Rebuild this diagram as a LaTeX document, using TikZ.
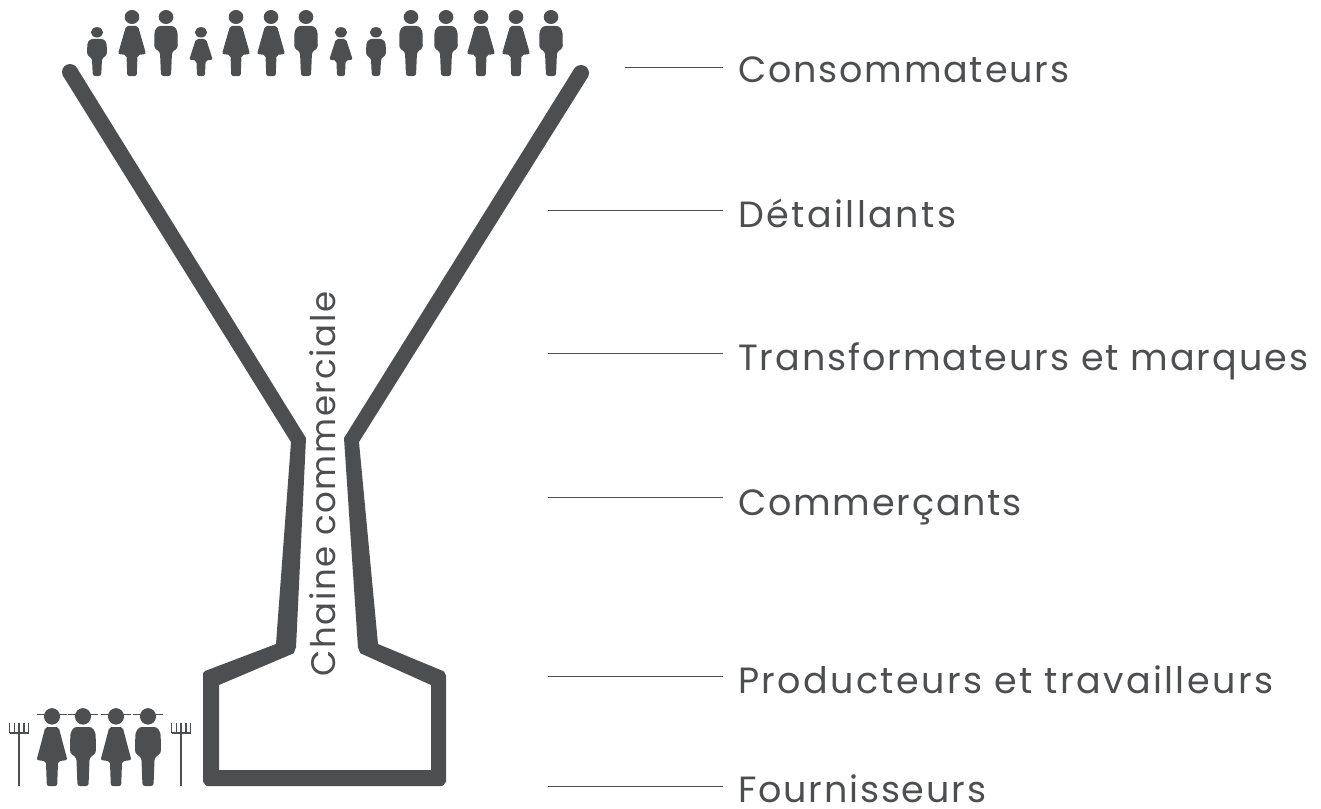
\documentclass[tikz,border=0pt]{standalone}
\usepackage{fontspec}
\setmainfont[LetterSpace=5]{Poppins}
\definecolor{ink}{HTML}{4D4E50}
\tikzset{
  x=1pt,y=-1pt,
  leader/.style={draw=ink,line width=0.8pt},
  label/.style={anchor=base west,inner sep=0pt,text=ink,font=\fontsize{36.5}{42}\selectfont},
  axislabel/.style={anchor=base west,inner sep=0pt,text=ink,rotate=90,font=\fontsize{34}{40}\selectfont},
  man/.pic={
    \fill[ink] (0,-59) ellipse (7.3 and 7);
    \fill[ink,rounded corners=2.5] (-8,-50) -- (8,-50) -- (11.5,-45) -- (11.8,-28) -- (6,-24) -- (5,0) -- (-5,0) -- (-6,-24) -- (-11.8,-28) -- (-11.5,-45) -- cycle;
  },
  woman/.pic={
    \fill[ink] (0,-59) ellipse (7.3 and 7);
    \fill[ink,rounded corners=2] (-6,-50) -- (6,-50) -- (14,-22) -- (5.5,-21) -- (4.7,0) -- (-4.7,0) -- (-5.5,-21) -- (-14,-22) -- cycle;
  },
  fork/.pic={
    \draw[ink,line width=1.5pt] (0,0) -- (0,63) (-9.5,10) -- (9.5,10) (-9.5,0) -- (-9.5,10) (-4.75,0) -- (-4.75,10) (4.75,0) -- (4.75,10) (9.5,0) -- (9.5,10);
  },
  hat/.pic={
    \draw[ink,line width=1pt] (-15,0) -- (15,0);
  }
}
\begin{document}
\begin{tikzpicture}
\useasboundingbox (0,0) rectangle (1321,808);
\fill[ink] (70,72) circle (8);
\fill[ink] (581,73) circle (8);
\fill[ink]
 (63.2,76.2) -- (291,442) -- (276,644) -- (205,671) to[out=180,in=-90] (203,673) -- (203,782) to[out=90,in=180] (207,786) -- (442,786) to[out=0,in=90] (446,782) -- (446,675) to[out=-90,in=0] (443,671) -- (378,644) -- (359,442) -- (587.8,77.2) -- (574.2,68.8) -- (344,438) -- (358,648) to[out=85,in=-155] (362,654) -- (431,685) -- (431,770) -- (219,770) -- (219,685) -- (292,654) to[out=-25,in=95] (296,648) -- (306,438) -- (76.8,67.8) -- cycle;
\foreach \x/\k in {132/woman,166/man,236/woman,271/woman,306/man,411/man,446/man,481/woman,516/woman,551/man}{
  \pic at (\x,76) {\k};
}
\foreach \x/\k in {97/man,201/woman,341/woman,376/man}{
  \pic[xscale=.84,yscale=.74] at (\x,76) {\k};
}
\foreach \x/\k in {52/woman,83/man,116/woman,148/man}{
  \pic[xscale=1.1,yscale=1.18] at (\x,786) {\k};
  \pic at (\x,714) {hat};
}
\pic at (19,723) {fork};
\pic at (181,723) {fork};
\foreach \n/\y/\x/\t/\b/\ls in {a/67/625/Consommateurs/82/5,b/210/548/Détaillants/227/6.7,c/353/548/Transformateurs et marques/370/5.4,d/497/548/Commerçants/515/5,e/676/548/Producteurs et travailleurs/693/6.5,f/786/548/Fournisseurs/802/5}{
  \coordinate (\n0) at (\x,\y);
  \coordinate (\n1) at (723,\y);
  \draw[leader] (\n0) -- (\n1);
  \node[label] (\n) at (738,\b) {\addfontfeature{LetterSpace=\ls}\t};
}
\node[axislabel] (chain) at (335,677) {\addfontfeature{LetterSpace=4.8}Chaine commerciale};
\end{tikzpicture}
\end{document}
